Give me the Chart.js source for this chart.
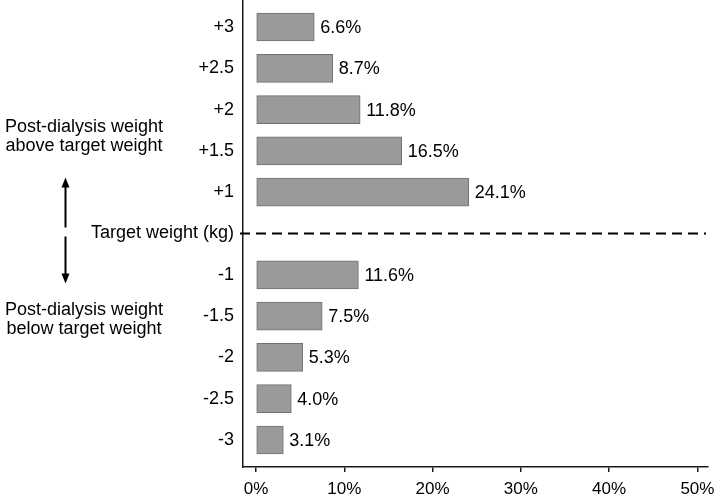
<!DOCTYPE html>
<html>
<head>
<meta charset="utf-8">
<script src="https://cdn.jsdelivr.net/npm/chart.js@4"></script>
<style>
  html, body { margin: 0; padding: 0; background: #fff; }
  canvas { display: block; }
</style>
</head>
<body>
<canvas id="weightChart" width="716" height="497"></canvas>
<script>
/* ---- Data ---- */
const rowLabels = ['+3', '+2.5', '+2', '+1.5', '+1', 'Target weight (kg)', '-1', '-1.5', '-2', '-2.5', '-3'];
const shares = [6.6, 8.7, 11.8, 16.5, 24.1, null, 11.6, 7.5, 5.3, 4.0, 3.1];
const xTicks = [0, 10, 20, 30, 40, 50];
const targetRow = 5;
const aboveNote = ['Post-dialysis weight', 'above target weight'];
const belowNote = ['Post-dialysis weight', 'below target weight'];

const FONT = 'Liberation Sans, Arial, sans-serif';
const INK = '#000';

/* value labels right of each bar */
const barLabels = {
  id: 'barLabels',
  afterDatasetsDraw(chart) {
    const { ctx } = chart;
    const meta = chart.getDatasetMeta(0);
    ctx.save();
    ctx.font = `18px ${FONT}`;
    ctx.fillStyle = INK;
    ctx.textAlign = 'left';
    ctx.textBaseline = 'middle';
    meta.data.forEach((bar, i) => {
      if (shares[i] == null) return;
      ctx.fillText(`${shares[i].toFixed(1)}%`, bar.x + 6, bar.y + 1);
    });
    ctx.restore();
  },
};

/* dashed target line + side notes with arrows */
const targetMarks = {
  id: 'targetMarks',
  afterDraw(chart) {
    const { ctx, chartArea } = chart;
    const y = chart.scales.y.getPixelForValue(targetRow);
    ctx.save();
    ctx.strokeStyle = INK;
    ctx.lineWidth = 2;
    ctx.setLineDash([10, 6]);
    ctx.beginPath();
    ctx.moveTo(chartArea.left - 3, y);
    ctx.lineTo(chartArea.right - 2, y);
    ctx.stroke();
    ctx.setLineDash([]);

    // notes
    ctx.font = `18px ${FONT}`;
    ctx.fillStyle = INK;
    ctx.textAlign = 'center';
    ctx.textBaseline = 'middle';
    const cx = 84;
    aboveNote.forEach((t, k) => ctx.fillText(t, cx, y - 106 + k * 19));
    belowNote.forEach((t, k) => ctx.fillText(t, cx, y + 77 + k * 19));

    // arrows
    const ax = 65.5;
    ctx.lineWidth = 2;
    ctx.beginPath();
    ctx.moveTo(ax, y - 48); ctx.lineTo(ax, y - 6);
    ctx.moveTo(ax, y + 3); ctx.lineTo(ax, y + 44);
    ctx.stroke();
    ctx.beginPath();
    ctx.moveTo(ax, y - 56); ctx.lineTo(ax - 4, y - 46); ctx.lineTo(ax + 4, y - 46); ctx.closePath();
    ctx.moveTo(ax, y + 50); ctx.lineTo(ax - 4, y + 40); ctx.lineTo(ax + 4, y + 40); ctx.closePath();
    ctx.fill();
    ctx.restore();
  },
};

new Chart(document.getElementById('weightChart'), {
  type: 'bar',
  data: {
    datasets: [{
      data: shares.map((v, i) => ({ x: v, y: i })),
      backgroundColor: '#9a9a9a',
      borderColor: '#707070',
      borderWidth: 1,
      borderSkipped: false,
      barThickness: 28,
    }],
  },
  options: {
    indexAxis: 'y',
    responsive: false,
    animation: false,
    layout: { padding: { top: 0, right: 8, bottom: 0, left: 0 } },
    plugins: { legend: { display: false }, tooltip: { enabled: false } },
    scales: {
      y: {
        type: 'linear',
        bounds: 'data',
        offset: false,
        reverse: true,
        min: -0.654,
        max: 10.654,
        afterBuildTicks: (scale) => { scale.ticks = rowLabels.map((_, i) => ({ value: i })); },
        afterFit: (scale) => {
          scale.width = 243;
          scale.paddingTop = 0;
          scale.paddingBottom = 0;
        },
        ticks: {
          callback: (v) => rowLabels[v],
          font: { family: FONT, size: 18 },
          color: INK,
          padding: 9,
        },
        grid: { drawOnChartArea: false, drawTicks: false },
        border: { display: true, color: '#1a1a1a', width: 1.5 },
      },
      x: {
        type: 'linear',
        bounds: 'data',
        min: -1.47,
        max: 51.2,
        afterBuildTicks: (scale) => { scale.ticks = xTicks.map((v) => ({ value: v })); },
        afterFit: (scale) => {
          scale.height = 30;
          scale.paddingLeft = 0;
          scale.paddingRight = 0;
        },
        ticks: {
          callback: (v) => `${v}%`,
          font: { family: FONT, size: 17 },
          color: INK,
          padding: 7,
          maxRotation: 0,
        },
        grid: { drawOnChartArea: false, drawTicks: true, tickLength: 5, color: '#1a1a1a', lineWidth: 1.5 },
        border: { display: true, color: '#1a1a1a', width: 1.5 },
      },
    },
  },
  plugins: [barLabels, targetMarks],
});
</script>
</body>
</html>
